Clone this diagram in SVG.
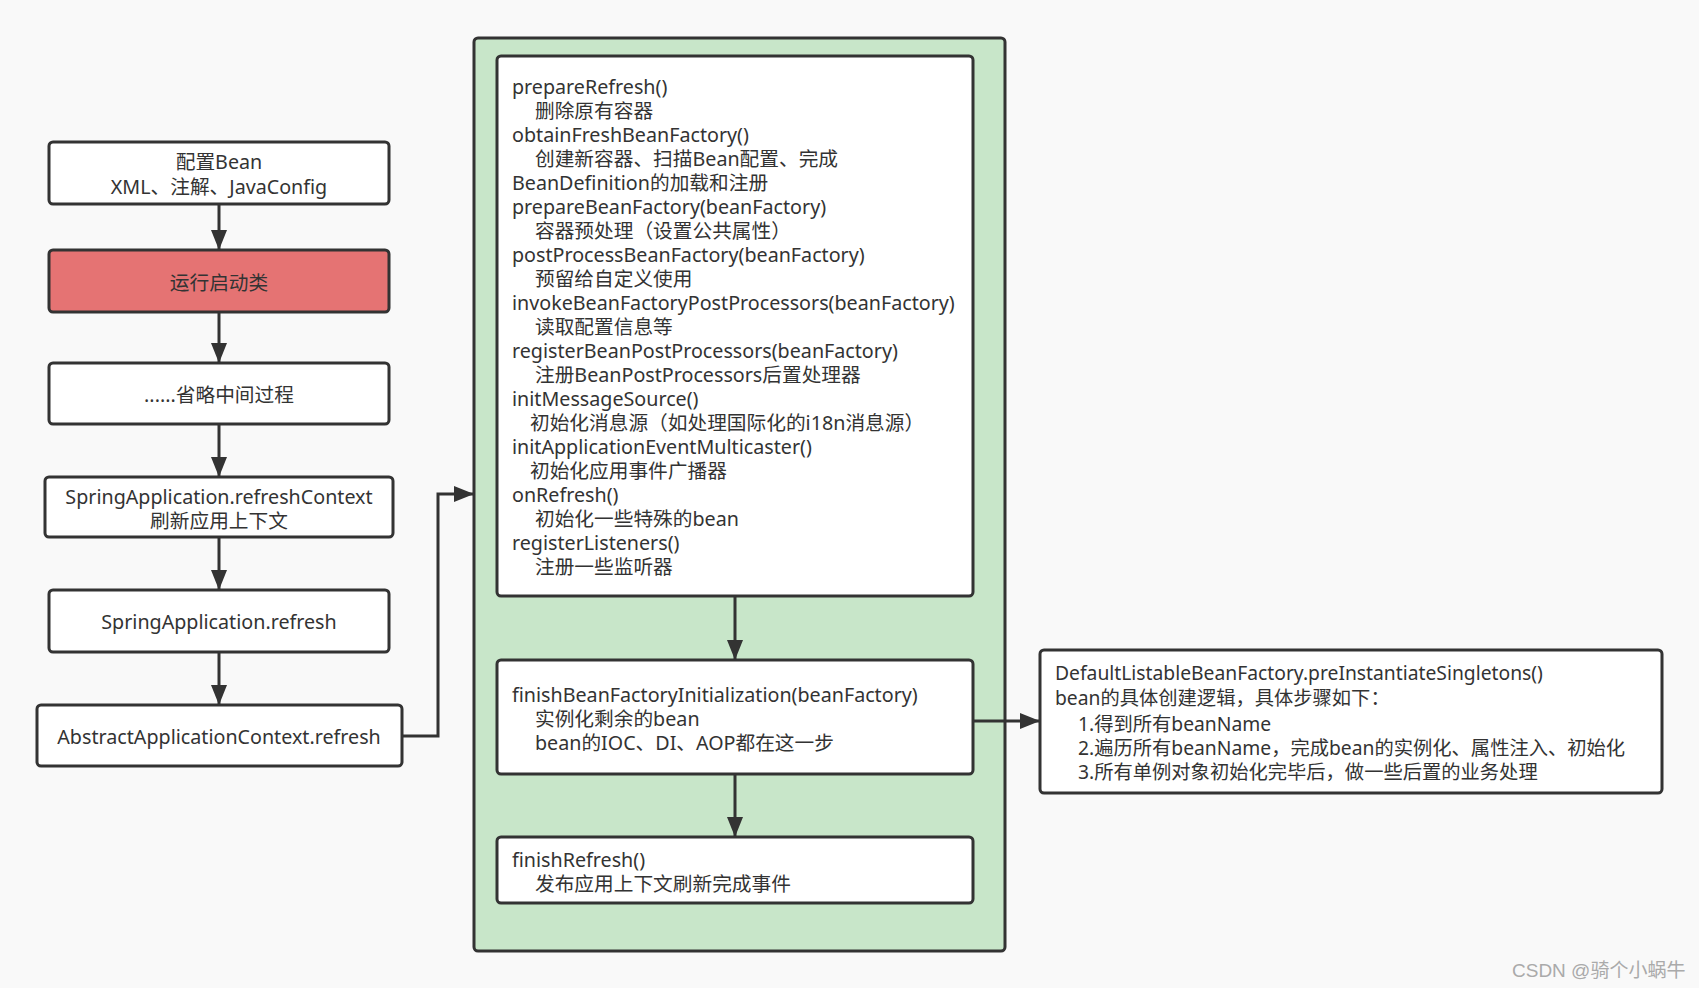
<svg xmlns="http://www.w3.org/2000/svg" width="1699" height="988" viewBox="0 0 1699 988">
<defs>
<marker id="ah" viewBox="0 0 20 16" refX="20" refY="8" markerWidth="20" markerHeight="16" markerUnits="userSpaceOnUse" orient="auto">
<path d="M0,0 L20,8 L0,16 Z" fill="#333"/>
</marker>
<style>
.box{fill:#fff;stroke:#333;stroke-width:3}
.red{fill:#e57373;stroke:#333;stroke-width:3}
.grp{fill:#c8e6c9;stroke:#333;stroke-width:3}
.t{font-family:"Noto Sans","Noto Sans CJK SC",sans-serif;font-size:19.7px;fill:#333}
.s{font-size:19.3px}
.c{text-anchor:middle}
.ln{fill:none;stroke:#333;stroke-width:3}
.wm{font-family:"Liberation Sans","Noto Sans CJK SC",sans-serif;font-size:19px;fill:#aaa}
</style>
</defs>
<rect width="1699" height="988" fill="#f9f9f9"/>

<g id="n1"><rect class="box" x="49" y="142" width="340" height="62" rx="4"/>
<text class="t c" x="219" y="169">配置Bean</text><text class="t c" x="219" y="194">XML、注解、JavaConfig</text></g>
<g id="n2"><rect class="red" x="49" y="250" width="340" height="62" rx="4"/>
<text class="t c" x="219" y="290">运行启动类</text></g>
<g id="n3"><rect class="box" x="49" y="363" width="340" height="61" rx="4"/>
<text class="t c" x="219" y="402">......省略中间过程</text></g>
<g id="n4"><rect class="box" x="45" y="477" width="348" height="60" rx="4"/>
<text class="t c" x="219" y="504">SpringApplication.refreshContext</text><text class="t c" x="219" y="528">刷新应用上下文</text></g>
<g id="n5"><rect class="box" x="49" y="590" width="340" height="62" rx="4"/>
<text class="t c" x="219" y="629">SpringApplication.refresh</text></g>
<g id="n6"><rect class="box" x="37" y="705" width="365" height="61" rx="4"/>
<text class="t c" x="219" y="744">AbstractApplicationContext.refresh</text></g>

<g id="grp"><rect class="grp" x="474" y="38" width="531" height="913" rx="4"/></g>

<g id="n7"><rect class="box" x="497" y="56" width="476" height="540" rx="4"/>
<text class="t">
<tspan x="512" y="94">prepareRefresh()</tspan>
<tspan x="535" y="118">删除原有容器</tspan>
<tspan x="512" y="142">obtainFreshBeanFactory()</tspan>
<tspan x="535" y="166">创建新容器、扫描Bean配置、完成</tspan>
<tspan x="512" y="190">BeanDefinition的加载和注册</tspan>
<tspan x="512" y="214">prepareBeanFactory(beanFactory)</tspan>
<tspan x="535" y="238">容器预处理（设置公共属性）</tspan>
<tspan x="512" y="262">postProcessBeanFactory(beanFactory)</tspan>
<tspan x="535" y="286">预留给自定义使用</tspan>
<tspan x="512" y="310">invokeBeanFactoryPostProcessors(beanFactory)</tspan>
<tspan x="535" y="334">读取配置信息等</tspan>
<tspan x="512" y="358">registerBeanPostProcessors(beanFactory)</tspan>
<tspan x="535" y="382">注册BeanPostProcessors后置处理器</tspan>
<tspan x="512" y="406">initMessageSource()</tspan>
<tspan x="530" y="430">初始化消息源（如处理国际化的i18n消息源）</tspan>
<tspan x="512" y="454">initApplicationEventMulticaster()</tspan>
<tspan x="530" y="478">初始化应用事件广播器</tspan>
<tspan x="512" y="502">onRefresh()</tspan>
<tspan x="535" y="526">初始化一些特殊的bean</tspan>
<tspan x="512" y="550">registerListeners()</tspan>
<tspan x="535" y="574">注册一些监听器</tspan>
</text></g>

<g id="n8"><rect class="box" x="497" y="660" width="476" height="114" rx="4"/>
<text class="t"><tspan x="512" y="702">finishBeanFactoryInitialization(beanFactory)</tspan>
<tspan x="535" y="726">实例化剩余的bean</tspan>
<tspan x="535" y="750">bean的IOC、DI、AOP都在这一步</tspan></text></g>

<g id="n9"><rect class="box" x="497" y="837" width="476" height="66" rx="4"/>
<text class="t"><tspan x="512" y="867">finishRefresh()</tspan>
<tspan x="535" y="891">发布应用上下文刷新完成事件</tspan></text></g>

<g id="n10"><rect class="box" x="1040" y="650" width="622" height="143" rx="4"/>
<text class="t s" x="1055" y="680">DefaultListableBeanFactory.preInstantiateSingletons()</text>
<text class="t s" x="1055" y="705">bean的具体创建逻辑，具体步骤如下：</text>
<text class="t s" x="1078" y="731">1.得到所有beanName</text>
<text class="t s" x="1078" y="755">2.遍历所有beanName，完成bean的实例化、属性注入、初始化</text>
<text class="t s" x="1078" y="779">3.所有单例对象初始化完毕后，做一些后置的业务处理</text></g>

<g id="connectors">
<path class="ln" d="M219,204 V250" marker-end="url(#ah)"/>
<path class="ln" d="M219,312 V363" marker-end="url(#ah)"/>
<path class="ln" d="M219,424 V477" marker-end="url(#ah)"/>
<path class="ln" d="M219,537 V590" marker-end="url(#ah)"/>
<path class="ln" d="M219,652 V705" marker-end="url(#ah)"/>
<path class="ln" d="M402,736 H438 V494 H474" marker-end="url(#ah)"/>
<path class="ln" d="M735,596 V660" marker-end="url(#ah)"/>
<path class="ln" d="M735,774 V837" marker-end="url(#ah)"/>
<path class="ln" d="M973,721 H1040" marker-end="url(#ah)"/>
</g>

<text class="wm" x="1512" y="977">CSDN @骑个小蜗牛</text>
</svg>
